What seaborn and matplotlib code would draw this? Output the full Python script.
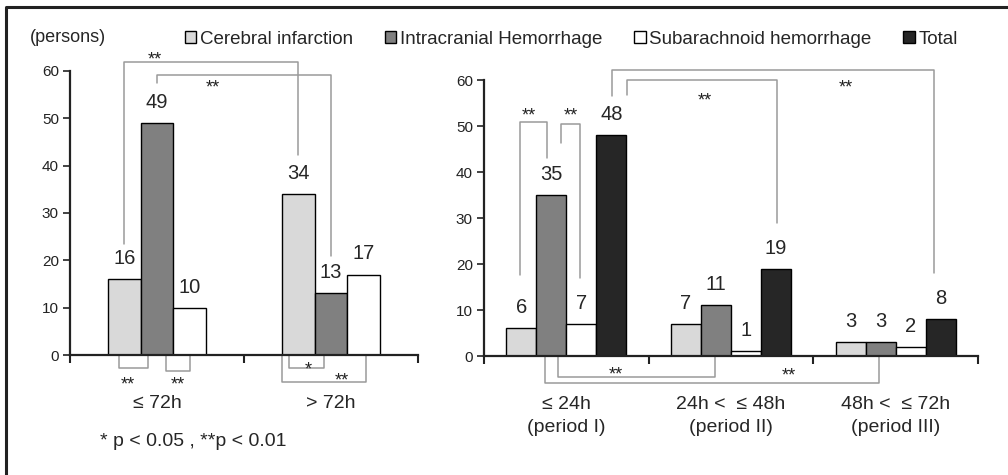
import pandas as pd
import matplotlib.pyplot as plt
import seaborn as sns
from matplotlib.patches import Patch
from matplotlib.lines import Line2D

sns.set_theme(style="white")
plt.rcParams["font.family"] = ["Liberation Sans", "DejaVu Sans"]

# data
diseases = ["Cerebral infarction", "Intracranial Hemorrhage", "Subarachnoid hemorrhage"]
left_groups = ["\u2264 72h", "> 72h"]
left_ci = [16, 34]
left_ich = [49, 13]
left_sah = [10, 17]

right_groups = ["\u2264 24h\n(period I)", "24h <  \u2264 48h\n(period II)", "48h <  \u2264 72h\n(period III)"]
right_ci = [6, 7, 3]
right_ich = [35, 11, 3]
right_sah = [7, 1, 2]
right_total = [48, 19, 8]

colors = {
    "Cerebral infarction": "#d9d9d9",
    "Intracranial Hemorrhage": "#808080",
    "Subarachnoid hemorrhage": "#ffffff",
    "Total": "#262626",
}

left_df = pd.DataFrame({
    "group": left_groups * 3,
    "disease": [d for d in diseases for _ in left_groups],
    "count": left_ci + left_ich + left_sah,
})
right_df = pd.DataFrame({
    "group": right_groups * 4,
    "disease": [d for d in diseases + ["Total"] for _ in right_groups],
    "count": right_ci + right_ich + right_sah + right_total,
})

# significance brackets: (x1, x2, y_bar, y_end1, y_end2, label, label_x, label_y)
left_brackets = [
    (-0.19, 0.81, 61.9, 23.5, 42.2, "**", -0.01, 63.0),
    (0.0, 1.0, 59.2, 57.4, 20.9, "**", 0.32, 57.0),
    (-0.22, -0.05, -2.8, 0, 0, "**", -0.17, -5.7),
    (0.05, 0.19, -3.4, 0, 0, "**", 0.12, -5.7),
    (0.76, 0.96, -2.8, 0, 0, "*", 0.87, -2.5),
    (0.72, 1.2, -5.7, 0, 0, "**", 1.06, -4.9),
]
right_brackets = [
    (-0.28, -0.12, 50.9, 17.6, 43.0, "**", -0.23, 52.8),
    (-0.03, 0.08, 50.4, 46.3, 16.9, "**", 0.03, 52.8),
    (0.28, 2.23, 62.2, 56.5, 18.0, "**", 1.70, 58.9),
    (0.37, 1.28, 60.0, 56.8, 28.9, "**", 0.84, 56.1),
    (-0.05, 0.9, -4.6, 0, 0, "**", 0.30, -3.5),
    (-0.13, 1.9, -5.9, 0, 0, "**", 1.35, -3.7),
]

fig = plt.figure(figsize=(10.08, 4.75), dpi=100)
ax1 = fig.add_axes([0.0694, 0.2526, 0.3452, 0.598])
ax2 = fig.add_axes([0.4802, 0.2505, 0.490, 0.581])

sns.barplot(data=left_df, x="group", y="count", hue="disease", palette=colors,
            width=0.56, gap=0, edgecolor="black", linewidth=1, ax=ax1, legend=False)
sns.barplot(data=right_df, x="group", y="count", hue="disease", palette=colors,
            width=0.73, gap=0, edgecolor="black", linewidth=1, ax=ax2, legend=False)

for ax, ngroups, brackets in [(ax1, 2, left_brackets), (ax2, 3, right_brackets)]:
    ax.set_xlim(-0.5, ngroups - 0.5)
    ax.set_ylim(0, 60)
    ax.set_yticks(range(0, 61, 10))
    ax.tick_params(axis="y", which="major", direction="out", length=5, width=1.2,
                   labelsize=11, left=True, pad=3, colors="#222222")
    labels = [t.get_text() for t in ax.get_xticklabels()]
    ax.set_xticks([i - 0.5 for i in range(ngroups + 1)])
    ax.set_xticklabels([])
    ax.tick_params(axis="x", which="major", direction="out", length=6, width=1.5,
                   bottom=True, color="#222222")
    ax.set_xticks(range(ngroups), minor=True)
    ax.set_xticklabels(labels, minor=True, fontsize=14, linespacing=1.45)
    ax.tick_params(axis="x", which="minor", length=0, pad=29)
    ax.set_xlabel("")
    ax.set_ylabel("")
    for s in ["top", "right"]:
        ax.spines[s].set_visible(False)
    for s in ["left", "bottom"]:
        ax.spines[s].set_color("#222222")
        ax.spines[s].set_linewidth(1.6)
    for c in ax.containers:
        ax.bar_label(c, padding=8, fontsize=14.5)
    for x1, x2, yb, e1, e2, lab, lx, ly in brackets:
        ax.add_line(Line2D([x1, x1, x2, x2], [e1, yb, yb, e2], color="#9a9a9a",
                           lw=1.1, clip_on=False))
        ax.annotate(lab, (lx, ly), xytext=(0, -5.5), textcoords="offset points",
                    fontsize=13, ha="center", va="baseline", color="#222222",
                    annotation_clip=False)

fig.text(30 / 1008, 1 - 38 / 475, "(persons)", fontsize=13, va="center", ha="left")
fig.text(100 / 1008, 1 - 442 / 475, "* p < 0.05 , **p < 0.01", fontsize=14,
         va="center", ha="left")

handles = [Patch(facecolor=colors[k], edgecolor="black", linewidth=1) for k in colors]
fig.legend(handles, list(colors), loc="center left", bbox_to_anchor=(185 / 1008, 1 - 39 / 475),
           ncol=4, frameon=False, fontsize=13.5, handlelength=0.6, handleheight=0.6,
           handletextpad=0.2, columnspacing=1.7, borderpad=0, borderaxespad=0)

# figure border (top and left)
fig.add_artist(Line2D([6 / 1008, 6 / 1008, 1.0], [0, 1 - 7 / 475, 1 - 7 / 475],
                      color="#222222", lw=2.2, transform=fig.transFigure))

fig.savefig("out.png", dpi=100)
